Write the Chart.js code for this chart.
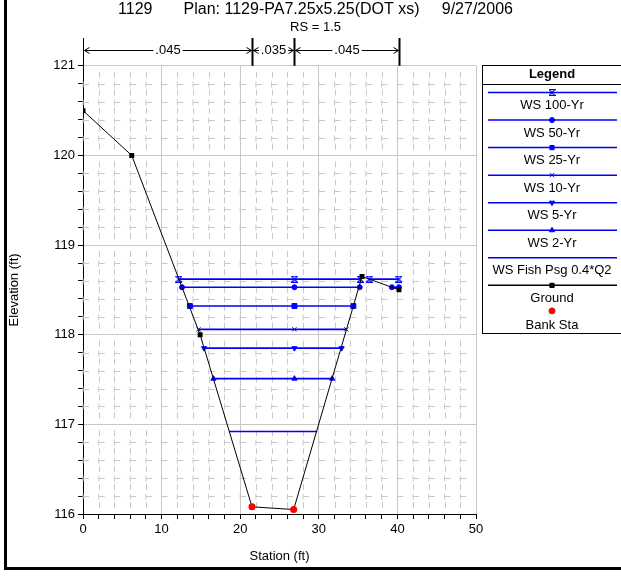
<!DOCTYPE html>
<html>
<head>
<meta charset="utf-8">
<script src="https://cdn.jsdelivr.net/npm/chart.js@4.4.0/dist/chart.umd.min.js"></script>
<style>
  html, body { margin: 0; padding: 0; background: #fff; }
  #wrap { position: relative; width: 621px; height: 581px; }
</style>
</head>
<body>
<div id="wrap"><canvas id="xsChart"></canvas></div>
<script>
// cross section data (station ft, elevation ft)
const groundSta = [0, 6.2, 14.9, 21.5, 26.8, 35.5, 40.2];
const groundElev = [120.5, 120.0, 118.0, 116.08, 116.05, 118.65, 118.5];
const bankSta = [21.5, 26.8];
const bankElev = [116.08, 116.05];

const wsNames = ['WS 100-Yr', 'WS 50-Yr', 'WS 25-Yr', 'WS 10-Yr', 'WS 5-Yr', 'WS 2-Yr', 'WS Fish Psg 0.4*Q2'];
const wsElev = [118.62, 118.53, 118.32, 118.06, 117.85, 117.51, 116.92];
const wsSta = [
  [12.2, 26.9, 35.3, null, 36.4, 40.2],
  [12.6, 26.9, 35.2, null, 39.3, 40.2],
  [13.6, 26.9, 34.4],
  [14.7, 26.9, 33.5],
  [15.4, 26.9, 32.9],
  [16.6, 26.9, 31.7],
  [18.6, 29.8]
];
const manningN = ['.045', '.035', '.045'];

const titleText = '1129       Plan: 1129-PA7.25x5.25(DOT xs)     9/27/2006';
const subText = 'RS = 1.5';
const xRange = [0, 50];
const yRange = [116, 121];

const FONT = '"Liberation Sans", Arial, sans-serif';
const BLUE = '#0000ff';

function hourglass(color) {
  const c = document.createElement('canvas');
  c.width = 7; c.height = 7;
  const g = c.getContext('2d');
  g.strokeStyle = color; g.lineWidth = 1.2;
  g.beginPath();
  g.moveTo(0.5, 0.5); g.lineTo(6.5, 0.5); g.lineTo(0.5, 6.5); g.lineTo(6.5, 6.5); g.closePath();
  g.stroke();
  return c;
}

const wsStyle = [
  { pointStyle: hourglass(BLUE), rotation: 0, r: 3 },
  { pointStyle: 'circle', rotation: 0, r: 2.5 },
  { pointStyle: 'rect', rotation: 0, r: 3.5 },
  { pointStyle: 'crossRot', rotation: 0, r: 3 },
  { pointStyle: 'triangle', rotation: 180, r: 3 },
  { pointStyle: 'triangle', rotation: 0, r: 3 },
  { pointStyle: false, rotation: 0, r: 0 }
];

const datasets = wsNames.map((name, i) => ({
  label: name,
  data: wsSta[i].map(s => s === null ? { x: (wsSta[i][2] + wsSta[i][4]) / 2, y: null } : { x: s, y: wsElev[i] }),
  borderColor: BLUE,
  backgroundColor: BLUE,
  borderWidth: 1.6,
  pointStyle: wsStyle[i].pointStyle,
  rotation: wsStyle[i].rotation,
  pointRadius: wsStyle[i].r,
  pointBorderWidth: 1,
  showLine: true,
  spanGaps: false,
  order: 2 + i
}));

datasets.push({
  label: 'Ground',
  data: groundSta.map((s, i) => ({ x: s, y: groundElev[i] })),
  borderColor: '#000',
  backgroundColor: '#000',
  borderWidth: 1,
  pointStyle: 'rect',
  pointRadius: 3.5,
  pointBorderWidth: 0,
  showLine: true,
  order: 1
});

datasets.push({
  label: 'Bank Sta',
  data: bankSta.map((s, i) => ({ x: s, y: bankElev[i] })),
  borderColor: '#ff0000',
  backgroundColor: '#ff0000',
  pointStyle: 'circle',
  pointRadius: 3.5,
  pointBorderWidth: 0,
  showLine: false,
  order: 0
});

const near = (v, step) => Math.abs(v / step - Math.round(v / step)) < 1e-6;

const decor = {
  id: 'decor',
  beforeDatasetsDraw(chart) {
    // dashed minor grid
    const { ctx, scales: { x, y } } = chart;
    const xs = x.ticks.map(t => x.getPixelForValue(t.value));
    const ys = y.ticks.map(t => y.getPixelForValue(t.value));
    ctx.save();
    ctx.strokeStyle = '#c8c8c8';
    ctx.lineWidth = 1;
    ctx.beginPath();
    x.ticks.forEach((t, i) => {
      if (near(t.value, 10)) return;
      const px = Math.round(xs[i]) + 0.5;
      for (let j = 0; j < ys.length - 1; j++) {
        const mid = (ys[j] + ys[j + 1]) / 2;
        ctx.moveTo(px, mid - 3); ctx.lineTo(px, mid + 3);
      }
    });
    y.ticks.forEach((t, i) => {
      if (near(t.value, 1)) return;
      const py = Math.round(ys[i]) + 0.5;
      for (let j = 0; j < xs.length - 1; j++) {
        ctx.moveTo(xs[j], py); ctx.lineTo(xs[j] + 6, py);
        ctx.moveTo(xs[j], py - 3); ctx.lineTo(xs[j], py + 3);
      }
    });
    ctx.stroke();
    ctx.restore();
  },
  afterDraw(chart) {
    const { ctx, chartArea: a, scales: { x } } = chart;
    ctx.save();

    // roughness (n value) annotation above the plot
    const bounds = [groundSta[0], bankSta[0], bankSta[1], groundSta[groundSta.length - 1]];
    const bx = bounds.map(b => Math.round(x.getPixelForValue(b)) + 0.5);
    const ay = 50.5;
    ctx.strokeStyle = '#000';
    ctx.fillStyle = '#000';
    bx.forEach((px, i) => {
      ctx.lineWidth = i === 0 ? 1 : 2;
      ctx.beginPath(); ctx.moveTo(px, 38); ctx.lineTo(px, a.top); ctx.stroke();
    });
    ctx.font = '13px ' + FONT;
    ctx.textAlign = 'center';
    ctx.textBaseline = 'middle';
    ctx.lineWidth = 1;
    manningN.forEach((n, i) => {
      const l = bx[i] + 1, r = bx[i + 1] - 1, mid = (l + r) / 2;
      const w = ctx.measureText(n).width;
      ctx.fillText(n, mid, ay);
      ctx.beginPath();
      ctx.moveTo(l, ay); ctx.lineTo(mid - w / 2 - 2, ay);
      ctx.moveTo(mid + w / 2 + 2, ay); ctx.lineTo(r, ay);
      ctx.moveTo(l + 5, ay - 3); ctx.lineTo(l, ay); ctx.lineTo(l + 5, ay + 3);
      ctx.moveTo(r - 5, ay - 3); ctx.lineTo(r, ay); ctx.lineTo(r - 5, ay + 3);
      ctx.stroke();
    });

    // legend box
    const lx = 482.5, lt = 65.5, cx = 552;
    ctx.lineWidth = 1;
    ctx.strokeRect(lx, lt, 150, 268);
    ctx.beginPath(); ctx.moveTo(lx, 84.5); ctx.lineTo(630, 84.5); ctx.stroke();
    ctx.font = 'bold 13px ' + FONT;
    ctx.fillText('Legend', cx, 74);
    ctx.font = '13px ' + FONT;
    chart.data.datasets.forEach((ds, i) => {
      const ly = 92.5 + 27.55 * i;
      const py = ds.showLine ? ly : ly - 2;
      if (ds.showLine) {
        ctx.strokeStyle = ds.borderColor;
        ctx.lineWidth = 1.5;
        ctx.beginPath(); ctx.moveTo(488, ly); ctx.lineTo(617, ly); ctx.stroke();
      }
      if (ds.pointStyle) {
        ctx.fillStyle = ds.backgroundColor;
        ctx.strokeStyle = ds.borderColor;
        ctx.lineWidth = 1;
        Chart.helpers.drawPoint(ctx, {
          pointStyle: ds.pointStyle, rotation: ds.rotation || 0,
          radius: Math.min(ds.pointRadius, 3), borderWidth: 1
        }, cx, py);
      }
      ctx.fillStyle = '#000';
      ctx.fillText(ds.label, cx, ly + 13);
    });

    // outer frame
    ctx.fillStyle = '#000';
    ctx.fillRect(4, 0, 3, 570);
    ctx.fillRect(4, 567, 617, 3);
    ctx.restore();
  }
};

new Chart(document.getElementById('xsChart'), {
  type: 'scatter',
  data: { datasets },
  plugins: [decor],
  options: {
    responsive: true,
    maintainAspectRatio: false,
    devicePixelRatio: 1,
    animation: false,
    layout: { padding: { left: 10, right: 0, top: 0, bottom: 0 } },
    plugins: {
      legend: { display: false },
      tooltip: { enabled: false },
      title: {
        display: true, text: titleText, color: '#000',
        font: { family: FONT, size: 16, weight: 'normal', lineHeight: 1.2 },
        padding: { top: 0, bottom: 0 }
      },
      subtitle: {
        display: true, text: subText, color: '#000',
        font: { family: FONT, size: 13, lineHeight: 1.2 },
        padding: { top: 0, bottom: 31 }
      }
    },
    scales: {
      x: {
        type: 'linear', position: 'bottom',
        min: xRange[0], max: xRange[1],
        afterFit: s => { s.height = 67; },
        ticks: {
          stepSize: 2, autoSkip: false, maxRotation: 0, padding: 3,
          color: '#000', font: { family: FONT, size: 13 },
          callback: v => near(v, 10) ? String(Math.round(v)) : ''
        },
        grid: {
          color: c => (c.tick && near(c.tick.value, 10)) ? '#c8c8c8' : 'rgba(0,0,0,0)',
          tickColor: '#000', tickLength: 5
        },
        border: { color: '#000', width: 1 },
        title: {
          display: true, text: 'Station (ft)', color: '#000',
          font: { family: FONT, size: 13, lineHeight: 1.2 },
          padding: { top: 0, bottom: 17 }
        }
      },
      y: {
        type: 'linear', position: 'left',
        min: yRange[0], max: yRange[1],
        afterFit: s => { s.width = 73; },
        ticks: {
          stepSize: 0.2, autoSkip: false, padding: 3,
          color: '#000', font: { family: FONT, size: 13 },
          callback: v => near(v, 1) ? String(Math.round(v)) : ''
        },
        grid: {
          color: c => (c.tick && near(c.tick.value, 1)) ? '#c8c8c8' : 'rgba(0,0,0,0)',
          tickColor: '#000', tickLength: 5
        },
        border: { color: '#000', width: 1 },
        title: {
          display: true, text: 'Elevation (ft)', color: '#000',
          font: { family: FONT, size: 13, lineHeight: 1.2 },
          padding: { top: -3, bottom: 0 }
        }
      },
      yR: {
        type: 'linear', position: 'right', min: 0, max: 1,
        afterFit: s => { s.width = 145; },
        ticks: { display: false },
        grid: { display: false, drawTicks: false },
        border: { display: false }
      }
    }
  }
});
</script>
</body>
</html>
